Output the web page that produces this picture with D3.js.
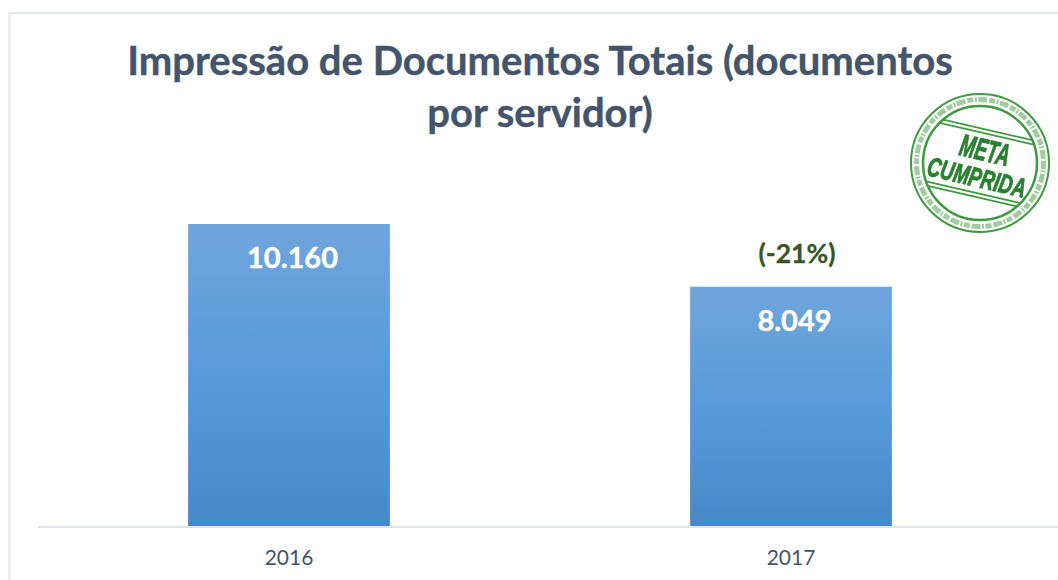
<!DOCTYPE html>
<html><head><meta charset="utf-8">
<script src="https://cdn.jsdelivr.net/npm/d3@7"></script>
<style>html,body{margin:0;padding:0;background:#fff}svg{display:block}text{font-family:Lato,"Open Sans",sans-serif}</style>
</head><body><svg id="c" width="1058" height="580"></svg>
<script>
const categories = ["2016","2017"];
const values = [10160,8049];
const valueLabels = ["10.160","8.049"];
const titleLines = ["Impressão de Documentos Totais (documentos","por servidor)"];
const changeLabel = "(-21%)";
const stampLines = ["META","CUMPRIDA"];

const svg = d3.select("#c");
const defs = svg.append("defs");
const g = defs.append("linearGradient").attr("id","bar").attr("x1",0).attr("y1",0).attr("x2",0).attr("y2",1);
[[0,"#70a5dc"],[0.55,"#5599db"],[1,"#4689c8"]].forEach(d=>g.append("stop").attr("offset",d[0]).attr("stop-color",d[1]));
defs.append("filter").attr("id","soft").append("feGaussianBlur").attr("stdDeviation",0.7);

svg.append("path").attr("d","M9.5,580V13H1058").attr("fill","none").attr("stroke","#e2e6ee").attr("stroke-width",2);

const x = d3.scaleBand().domain(categories).range([38,1042]).paddingInner(0.598).paddingOuter(0.299);
const y = d3.scaleLinear().domain([0,12000]).range([526,169.3]);

svg.selectAll("text.title").data(titleLines).join("text").attr("class","title")
  .attr("x",540).attr("y",(d,i)=>75+i*52).attr("text-anchor","middle")
  .attr("font-size",40).attr("font-weight",700).attr("fill","#44546a")
  .attr("stroke","#44546a").attr("stroke-width",0.4).text(d=>d);

svg.selectAll("rect.bar").data(values).join("rect").attr("class","bar")
  .attr("x",(d,i)=>x(categories[i])).attr("width",x.bandwidth())
  .attr("y",d=>y(d)).attr("height",d=>y(0)-y(d)).attr("fill","url(#bar)");

svg.selectAll("text.vl").data(values).join("text").attr("class","vl")
  .attr("x",(d,i)=>x(categories[i])+x.bandwidth()/2+3.5).attr("y",d=>y(d)+44)
  .attr("text-anchor","middle").attr("font-size",29).attr("font-weight",700).attr("fill","#fff")
  .attr("stroke","#fff").attr("stroke-width",0.4)
  .text((d,i)=>valueLabels[i]);

svg.append("text").attr("x",x(categories[1])+x.bandwidth()/2+6).attr("y",y(values[1])-24)
  .attr("text-anchor","middle").attr("font-size",26.5).attr("font-weight",700).attr("fill","#375623")
  .attr("stroke","#375623").attr("stroke-width",0.3).text(changeLabel);

const axis = svg.append("g").attr("transform","translate(0,526.5)").call(d3.axisBottom(x).tickSize(0).tickPadding(24));
axis.select(".domain").attr("stroke","#dfe3ea").attr("stroke-width",2).attr("d","M38,0.5H1058");
axis.selectAll("text").attr("font-size",21).attr("fill","#44546a").style("font-family","Lato,sans-serif");

// stamp
const st = svg.append("g").attr("transform","translate(980,163)");
st.append("circle").attr("r",74).attr("fill","#fff");
const ink = st.append("g").attr("filter","url(#soft)");
const green="#3f9a3f";
ink.append("circle").attr("r",69).attr("fill","none").attr("stroke",green).attr("stroke-width",2);
ink.append("circle").attr("r",63.5).attr("fill","none").attr("stroke",green).attr("stroke-width",5).attr("stroke-dasharray","6 1.5 2 1.5 9 2").attr("opacity",.5);
ink.append("circle").attr("r",57).attr("fill","none").attr("stroke",green).attr("stroke-width",2.5);
const rt = ink.append("g").attr("transform","rotate(13)");
[-34,-30,30,34].forEach(v=>{
  const h = Math.sqrt(57*57-v*v);
  rt.append("line").attr("x1",-h).attr("x2",h).attr("y1",v).attr("y2",v).attr("stroke",green).attr("stroke-width",1.7);
});
const stampScale = [0.59,0.69];
rt.selectAll("text").data(stampLines).join("text").attr("text-anchor","middle")
  .attr("transform",(d,i)=>`translate(${i?0:2},${i?24:-3}) scale(${stampScale[i]},1)`)
  .attr("font-size",(d,i)=>i?27:31).attr("font-weight",700)
  .attr("font-style","italic").attr("fill","#2a8030").attr("stroke","#2a8030").attr("stroke-width",1)
  .style("font-family","'Liberation Sans',sans-serif").text(d=>d);
</script></body></html>
